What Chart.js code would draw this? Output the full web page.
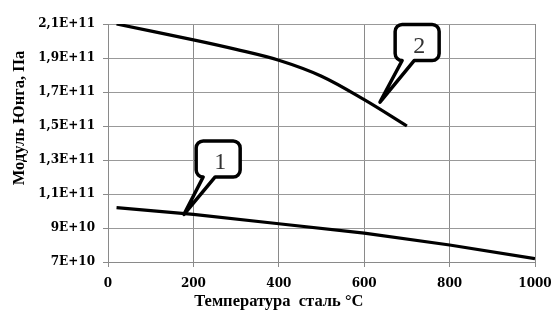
<!DOCTYPE html>
<html>
<head>
<meta charset="utf-8">
<script src="https://cdn.jsdelivr.net/npm/chart.js@4/dist/chart.umd.min.js"></script>
<style>
  html, body { margin: 0; padding: 0; background: #fff; }
  #wrap { width: 552px; height: 320px; }
</style>
</head>
<body>
<div id="wrap"><canvas id="grafico"></canvas></div>
<script>
// dados
var temperaturas1 = [20, 200, 400, 600, 800, 1000];
var modulo1 = [1.02e11, 0.98e11, 0.925e11, 0.87e11, 0.80e11, 0.72e11];

var temperaturas2 = [20, 200, 300, 400, 500, 600, 700];
var modulo2 = [2.10e11, 2.007e11, 1.951e11, 1.887e11, 1.793e11, 1.655e11, 1.50e11];

var xTicks = [0, 200, 400, 600, 800, 1000];
var yTickLabels = ["7E+10", "9E+10", "1,1E+11", "1,3E+11", "1,5E+11", "1,7E+11", "1,9E+11", "2,1E+11"];

// balões (texto, ponta, centro do balão) em coordenadas dos dados
var baloes = [
    { texto: "1", pontaX: 178, pontaY: 0.98e11, centroX: 258, centroY: 1.306e11 },
    { texto: "2", pontaX: 637, pontaY: 1.641e11, centroX: 724, centroY: 1.991e11 }
];

var tituloX = "Температура  сталь °С";
var tituloY = "Модуль Юнга, Па";

function pontos(xs, ys) {
    var p = [];
    for (var i = 0; i < xs.length; i++) p.push({ x: xs[i], y: ys[i] });
    return p;
}

var fonteTicks = { family: "DejaVu Serif", size: 12, weight: "bold" };

// * desenha os balões e os títulos dos eixos
var pluginBaloes = {
    id: "baloes",
    afterDatasetsDraw: function (chart) {
        var ctx = chart.ctx;
        var sx = chart.scales.x, sy = chart.scales.y;
        ctx.save();
        baloes.forEach(function (b) {
            var cx = sx.getPixelForValue(b.centroX), cy = sy.getPixelForValue(b.centroY);
            var tx = sx.getPixelForValue(b.pontaX), ty = sy.getPixelForValue(b.pontaY);
            var w = 44, h = 36, r = 7;
            var x0 = cx - w / 2, x1 = cx + w / 2, y0 = cy - h / 2, y1 = cy + h / 2;
            var b1 = x0 + 7, b2 = x0 + 19;
            ctx.beginPath();
            ctx.moveTo(x0 + r, y0);
            ctx.lineTo(x1 - r, y0);
            ctx.arcTo(x1, y0, x1, y0 + r, r);
            ctx.lineTo(x1, y1 - r);
            ctx.arcTo(x1, y1, x1 - r, y1, r);
            ctx.lineTo(b2, y1);
            ctx.lineTo(tx, ty);
            ctx.lineTo(b1, y1);
            ctx.arcTo(x0, y1, x0, y1 - r, r);
            ctx.lineTo(x0, y0 + r);
            ctx.arcTo(x0, y0, x0 + r, y0, r);
            ctx.closePath();
            ctx.fillStyle = "#fff";
            ctx.fill();
            ctx.lineWidth = 3.5;
            ctx.lineJoin = "round";
            ctx.strokeStyle = "#000";
            ctx.stroke();
            ctx.fillStyle = "#333";
            ctx.font = "24px 'Liberation Serif'";
            ctx.textAlign = "center";
            ctx.textBaseline = "middle";
            ctx.fillText(b.texto, cx + 2, cy + 4);
        });

        var area = chart.chartArea;
        ctx.fillStyle = "#000";
        ctx.font = "bold 16.5px 'Liberation Serif'";
        ctx.textAlign = "center";
        ctx.textBaseline = "middle";
        ctx.fillText(tituloX, area.left + (area.right - area.left) * 0.40, 302);

        ctx.translate(20, area.top + (area.bottom - area.top) * 0.395);
        ctx.rotate(-Math.PI / 2);
        ctx.fillText(tituloY, 0, 0);
        ctx.restore();
    }
};

var ctx = document.getElementById("grafico").getContext("2d");
var grafico = new Chart(ctx, {
    type: "line",
    data: {
        datasets: [
            {
                data: pontos(temperaturas1, modulo1),
                borderColor: "#000",
                borderWidth: 3.2,
                pointRadius: 0,
                tension: 0
            },
            {
                data: pontos(temperaturas2, modulo2),
                borderColor: "#000",
                borderWidth: 3.2,
                pointRadius: 0,
                tension: 0.35
            }
        ]
    },
    options: {
        responsive: true,
        maintainAspectRatio: false,
        animation: false,
        layout: { padding: { left: 0, top: 24, right: 17, bottom: 0 } },
        plugins: { legend: { display: false }, tooltip: { enabled: false } },
        scales: {
            x: {
                type: "linear",
                min: 0,
                max: 1000,
                afterBuildTicks: function (scale) {
                    scale.ticks = xTicks.map(function (v) { return { value: v }; });
                },
                ticks: {
                    font: fonteTicks,
                    color: "#000",
                    padding: 10,
                    maxRotation: 0,
                    callback: function (v) { return String(v); }
                },
                grid: { color: "#8a8a8a", lineWidth: 1, tickLength: 5, tickColor: "#8a8a8a" },
                border: { color: "#8a8a8a" },
                afterFit: function (scale) {
                    scale.height = 58;
                    scale.paddingLeft = 0;
                    scale.paddingRight = 0;
                }
            },
            y: {
                type: "linear",
                min: 7e10,
                max: 2.1e11,
                ticks: {
                    stepSize: 2e10,
                    font: fonteTicks,
                    color: "#000",
                    padding: 8,
                    callback: function (v, i) { return yTickLabels[i]; }
                },
                grid: { color: "#999", lineWidth: 1, tickLength: 5, tickColor: "#8a8a8a" },
                border: { color: "#8a8a8a" },
                afterFit: function (scale) {
                    scale.width = 108;
                    scale.paddingTop = 0;
                    scale.paddingBottom = 0;
                }
            }
        }
    },
    plugins: [pluginBaloes]
});
</script>
</body>
</html>
